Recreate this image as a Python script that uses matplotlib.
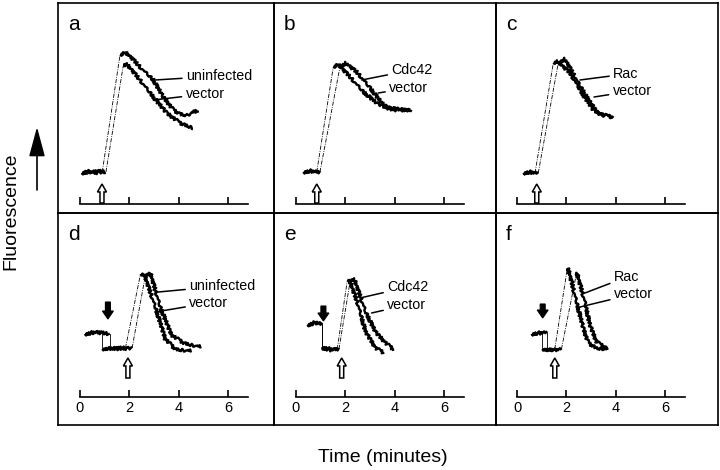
import matplotlib
matplotlib.use("Agg")
import matplotlib.pyplot as plt
from matplotlib.patches import FancyArrow, FancyArrowPatch

plt.rcParams["font.family"] = ["Liberation Sans", "DejaVu Sans"]

# ---- data (time in minutes, fluorescence in arbitrary units) ----
a_uninf_t = [0.07, 0.3, 0.55, 0.9, 1.62, 1.82, 2.1, 2.43, 2.97, 3.37, 3.78, 4.05, 4.32, 4.79]
a_uninf_f = [31, 33, 31, 32, 149, 152, 146, 137, 124, 107, 94, 90, 89, 94]
a_vec_t = [0.07, 0.4, 0.7, 1.05, 1.75, 1.85, 2.1, 2.43, 2.97, 3.51, 4.05, 4.59]
a_vec_f = [31, 32, 33, 32, 138, 141, 134, 124, 107, 91, 81, 76]

b_cdc_t = [0.3, 0.6, 0.97, 1.78, 2.02, 2.46, 3.0, 3.54, 3.94, 4.69]
b_cdc_f = [32, 33, 32, 137, 141, 132, 116, 99, 94, 94]
b_vec_t = [0.3, 0.6, 0.84, 1.51, 1.70, 2.19, 2.73, 3.27, 3.67, 4.62]
b_vec_f = [32, 33, 32, 137, 140, 127, 112, 101, 96, 94]

c_rac_t = [0.26, 0.55, 0.86, 1.67, 1.94, 2.42, 2.82, 3.23, 3.49, 3.9]
c_rac_f = [31, 32, 31, 141, 145, 124, 107, 92, 89, 87]
c_vec_t = [0.26, 0.5, 0.73, 1.47, 1.63, 2.15, 2.55, 3.09, 3.43, 3.83]
c_vec_f = [31, 32, 31, 141, 143, 131, 114, 94, 89, 87]

d_uninf_t = [0.2, 0.7, 1.2, 1.2, 1.6, 2.11, 2.65, 2.85, 3.25, 3.7, 4.2, 4.9]
d_uninf_f = [63, 65, 63, 49, 48, 49, 122, 124, 90, 62, 54, 50]
d_vec_t = [0.2, 0.6, 0.9, 0.9, 1.4, 1.84, 2.45, 2.6, 3.1, 3.45, 3.85, 4.5]
d_vec_f = [63, 65, 64, 48, 49, 49, 123, 123, 86, 58, 48, 46]

e_cdc_t = [0.46, 0.8, 1.06, 1.06, 1.4, 1.74, 2.2, 2.36, 2.82, 3.22, 3.63, 3.97]
e_cdc_f = [72, 75, 73, 50, 48, 48, 117, 118, 85, 65, 54, 47]
e_vec_t = [0.46, 0.8, 1.06, 1.06, 1.4, 1.67, 2.08, 2.15, 2.48, 2.82, 3.22, 3.57]
e_vec_f = [72, 74, 73, 49, 47, 48, 117, 118, 95, 65, 49, 44]

f_rac_t = [0.59, 0.9, 1.22, 1.22, 1.5, 1.8, 2.38, 2.43, 2.75, 2.95, 3.22, 3.68]
f_rac_f = [63, 64, 65, 48, 47, 48, 120, 124, 95, 72, 55, 48]
f_vec_t = [0.59, 0.85, 1.03, 1.03, 1.3, 1.53, 2.02, 2.07, 2.41, 2.68, 2.88, 3.22, 3.62]
f_vec_f = [63, 64, 64, 48, 47, 48, 126, 129, 95, 69, 54, 49, 48]

panel_letters = ["a", "b", "c", "d", "e", "f"]
series_names = [("uninfected", "vector"), ("Cdc42", "vector"), ("Rac", "vector"),
                ("uninfected", "vector"), ("Cdc42", "vector"), ("Rac", "vector")]
stimulus_t = [0.89, 0.84, 0.8, 1.94, 1.85, 1.53]      # hollow arrows
addition_t = [None, None, None, 1.13, 1.11, 1.04]     # black arrows
time_ticks = [0, 2, 4, 6]

traces = [
    [(a_uninf_t, a_uninf_f), (a_vec_t, a_vec_f)],
    [(b_cdc_t, b_cdc_f), (b_vec_t, b_vec_f)],
    [(c_rac_t, c_rac_f), (c_vec_t, c_vec_f)],
    [(d_uninf_t, d_uninf_f), (d_vec_t, d_vec_f)],
    [(e_cdc_t, e_cdc_f), (e_vec_t, e_vec_f)],
    [(f_rac_t, f_rac_f), (f_vec_t, f_vec_f)],
]

# ---- layout (pixels of a 720x470 canvas) ----
W, H = 720, 470
COL_EDGES = [58, 274, 496, 718]
ROW_EDGES = [3, 213, 425]
AXIS_X0 = [80, 296, 517]
AXIS_Y = [204, 397]
PX_PER_MIN = 24.7
T_MAX = 6.8

# leader line (curve point) and label position, per panel, in data units
LEADERS = [
    [((3.04, 124), (4.3, 128)), ((2.97, 104), (4.28, 110))],
    [((2.66, 124), (3.87, 134)), ((3.33, 111), (3.78, 116))],
    [((2.55, 124), (3.9, 130)), ((3.12, 107), (3.88, 113))],
    [((3.17, 105), (4.43, 111)), ((3.04, 85), (4.43, 94))],
    [((2.59, 99), (3.7, 110)), ((3.06, 84), (3.7, 92))],
    [((2.75, 104), (3.93, 120)), ((2.55, 90), (3.93, 103))],
]
HOLLOW_SPAN = [(1, 20), (19, 39)]
BLACK_SPAN = [None, None, None, (95, 78), (91, 76), (93, 79)]


def fig_rect(left, top, right, bottom):
    return [left / W, 1 - bottom / H, (right - left) / W, (bottom - top) / H]


def draw_trace(ax, t, f):
    """Slow parts as thick noisy trace, fast rises as thin dashes."""
    runs = []
    for i in range(len(t) - 1):
        dt = t[i + 1] - t[i]
        df = f[i + 1] - f[i]
        if dt == 0:
            kind = "drop"
        elif df / dt > 110:
            kind = "rise"
        else:
            kind = "slow"
        if runs and runs[-1][0] == kind:
            runs[-1][1].append(i + 1)
        else:
            runs.append([kind, [i, i + 1]])
    for kind, idx in runs:
        xs = [t[j] for j in idx]
        ys = [f[j] for j in idx]
        if kind == "rise":
            ax.plot(xs, ys, color="black", lw=0.6, ls=(0, (5, 1.5, 1, 1.5)))
        elif kind == "drop":
            ax.plot(xs, ys, color="black", lw=0.6)
        else:
            line, = ax.plot(xs, ys, color="black", lw=1.7, solid_capstyle="butt")
            line.set_sketch_params(1.5, 2.0, 2.0)


fig = plt.figure(figsize=(W / 100, H / 100), dpi=100)

for k in range(6):
    row, col = divmod(k, 3)
    left, right = COL_EDGES[col], COL_EDGES[col + 1]
    top, bottom = ROW_EDGES[row], ROW_EDGES[row + 1]

    frame = fig.add_axes(fig_rect(left, top, right, bottom))
    frame.set_xticks([])
    frame.set_yticks([])
    frame.patch.set_alpha(0)
    for sp in frame.spines.values():
        sp.set_linewidth(1.2)

    x0, ay = AXIS_X0[col], AXIS_Y[row]
    ax = fig.add_axes(fig_rect(x0, top, x0 + T_MAX * PX_PER_MIN, ay))
    ax.patch.set_alpha(0)
    ax.set_xlim(0, T_MAX)
    ax.set_ylim(0, ay - top)
    for name in ["top", "left", "right"]:
        ax.spines[name].set_visible(False)
    ax.spines["bottom"].set_linewidth(1.2)
    ax.set_yticks([])
    ax.set_xticks(time_ticks)
    ax.tick_params(axis="x", direction="in", length=5, width=1.2,
                   labelsize=10.5, pad=3, labelbottom=(row == 1))

    for t, f in traces[k]:
        draw_trace(ax, t, f)

    for name, (xy, xytext) in zip(series_names[k], LEADERS[k]):
        ax.annotate(name, xy=xy, xytext=xytext, ha="left", va="center",
                    fontsize=10.3,
                    arrowprops=dict(arrowstyle="-", lw=1.1, color="black",
                                    shrinkA=1, shrinkB=0))

    tail, tip = HOLLOW_SPAN[row]
    ax.add_patch(FancyArrow(stimulus_t[k], tail, 0, tip - tail,
                            width=4 / PX_PER_MIN, head_width=9 / PX_PER_MIN,
                            head_length=8, length_includes_head=True,
                            fc="white", ec="black", lw=1.1))
    if addition_t[k] is not None:
        tail, tip = BLACK_SPAN[k]
        ax.add_patch(FancyArrow(addition_t[k], tail, 0, tip - tail,
                                width=5 / PX_PER_MIN, head_width=11 / PX_PER_MIN,
                                head_length=8, length_includes_head=True,
                                fc="black", ec="black", lw=0.8))

    fig.text((left + 10) / W, 1 - (top + 27) / H, panel_letters[k],
             fontsize=15, va="baseline", ha="left")

fig.text(11 / W, 1 - 211 / H, "Fluorescence", rotation=90,
         ha="center", va="center", fontsize=14)
fig.add_artist(FancyArrowPatch((37 / W, 1 - 190 / H), (37 / W, 1 - 127 / H),
                               transform=fig.transFigure,
                               arrowstyle="-|>,head_length=1.3,head_width=0.35",
                               mutation_scale=14, lw=1.2, color="black",
                               shrinkA=0, shrinkB=0))
fig.text(383 / W, 1 - 457 / H, "Time (minutes)", ha="center", va="center",
         fontsize=14)

fig.savefig("out.png", dpi=100)
